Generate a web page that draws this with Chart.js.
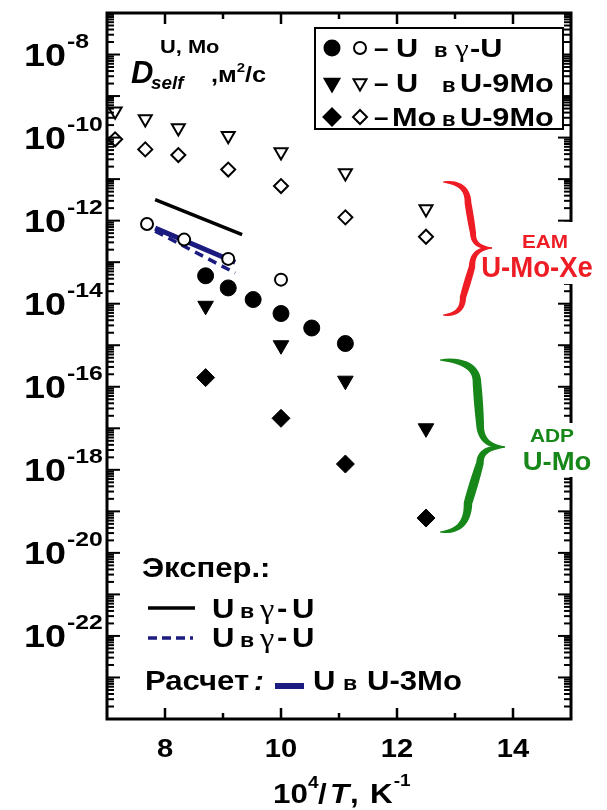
<!DOCTYPE html>
<html>
<head>
<meta charset="utf-8">
<script src="https://cdn.jsdelivr.net/npm/chart.js@4.4.1/dist/chart.umd.min.js"></script>
<style>
  html, body { margin: 0; background: #fff; }
  #wrap { width: 607px; height: 810px; }
</style>
</head>
<body>
<div id="wrap"><canvas id="chart"></canvas></div>
<script>
// x = 10^4/T (K^-1), y = D_self (m^2/s)
var xGammaEAM = [7.69, 8.33, 9.09, 10.0];
var dGammaEAM = [8.3e-13, 3.5e-13, 1.2e-13, 3.8e-14];
var xGammaADP = [8.70, 9.09, 9.52, 10.0, 10.53, 11.11];
var dGammaADP = [4.7e-14, 2.4e-14, 1.26e-14, 5.8e-15, 2.6e-15, 1.1e-15];

var x9MoEAM = [7.14, 7.66, 8.23, 9.09, 10.0, 11.11, 12.5];
var dU9MoEAM = [4.3e-10, 2.8e-10, 1.7e-10, 1.1e-10, 4.5e-11, 1.4e-11, 1.9e-12];
var dMo9MoEAM = [9.1e-11, 5.2e-11, 3.8e-11, 1.7e-11, 6.8e-12, 1.2e-12, 4.1e-13];

var x9MoADP = [8.70, 10.0, 11.11, 12.5];
var dU9MoADP = [8.9e-15, 1.0e-15, 1.4e-16, 1.0e-17];
var dMo9MoADP = [1.66e-16, 1.74e-17, 1.38e-18, 6.9e-20];

// experimental lines and the U-3Mo calculation (end points)
var xExpSolid = [7.83, 9.33];
var dExpSolid = [3.2e-12, 4.6e-13];
var xExpDash = [7.83, 9.21];
var dExpDash = [5.6e-13, 5.5e-14];
var xCalc3Mo = [7.83, 9.21];
var dCalc3Mo = [6.6e-13, 1.0e-13];

var xTickLabels = [8, 10, 12, 14];
var xMinorTicks = [9, 11, 13];
var yLabelExps = [-22, -20, -18, -16, -14, -12, -10, -8];
var yDecadeExps = [-24, -23, -22, -21, -20, -19, -18, -17, -16, -15, -14, -13, -12, -11, -10, -9, -8];

var SANS = '"Liberation Sans", Arial, sans-serif';
var SERIF = '"Liberation Serif", "Times New Roman", serif';
var NAVY = '#1b1b80';
var RED = '#ee1c24';
var GREEN = '#17871a';

function pts(xs, ys) {
  return xs.map(function (x, i) { return { x: x, y: ys[i] }; });
}

function txt(ctx, s, x, y, size, opt) {
  opt = opt || {};
  ctx.save();
  ctx.font = (opt.style || 'bold') + ' ' + size + 'px ' + (opt.family || SANS);
  ctx.fillStyle = opt.color || '#000';
  ctx.textBaseline = 'alphabetic';
  ctx.textAlign = 'left';
  var sx = opt.sx || 1.15;
  var w = ctx.measureText(s).width * sx;
  var x0 = opt.align === 'right' ? x - w : (opt.align === 'center' ? x - w / 2 : x);
  ctx.translate(x0, y);
  ctx.scale(sx, 1);
  ctx.fillText(s, 0, 0);
  ctx.restore();
  return x0 + w;
}

function seg(ctx, x1, y1, x2, y2) {
  ctx.beginPath();
  ctx.moveTo(x1, y1);
  ctx.lineTo(x2, y2);
  ctx.stroke();
}

function marker(ctx, kind, x, y, filled) {
  ctx.save();
  ctx.beginPath();
  var r;
  if (kind === 'circle') {
    r = filled ? 7.5 : 6;
    ctx.arc(x, y, r, 0, Math.PI * 2);
  } else if (kind === 'tri') {
    r = filled ? 8.5 : 7.5;
    ctx.moveTo(x - r * 0.866, y - r / 2);
    ctx.lineTo(x + r * 0.866, y - r / 2);
    ctx.lineTo(x, y + r);
    ctx.closePath();
  } else {
    r = filled ? 8.5 : 7;
    ctx.moveTo(x, y - r);
    ctx.lineTo(x + r, y);
    ctx.lineTo(x, y + r);
    ctx.lineTo(x - r, y);
    ctx.closePath();
  }
  ctx.fillStyle = filled ? '#000' : '#fff';
  ctx.fill();
  ctx.lineWidth = 2;
  ctx.strokeStyle = '#000';
  ctx.stroke();
  ctx.restore();
}

function quad(ax, ay, cx, cy, bx, by, t) {
  var u = 1 - t;
  return [u * u * ax + 2 * u * t * cx + t * t * bx, u * u * ay + 2 * u * t * cy + t * t * by];
}

// one half of a curly brace: end curl -> spine -> tip, filled with tapering width
function braceHalf(ctx, x0, y0, xa, xb, ym, xt, r1, r2, wMax) {
  var s = ym > y0 ? 1 : -1;
  var p = [], i, n = 14;
  for (i = 0; i <= n; i++) p.push(quad(x0, y0, xa, y0, xa, y0 + s * r1, i / n));
  for (i = 1; i <= n; i++) {
    var t = i / n;
    p.push([xa + (xb - xa) * t, y0 + s * r1 + (ym - s * r2 - y0 - s * r1) * t]);
  }
  for (i = 1; i <= n; i++) p.push(quad(xb, ym - s * r2, xb, ym, xt, ym, i / n));
  var len = [0];
  for (i = 1; i < p.length; i++) {
    len.push(len[i - 1] + Math.hypot(p[i][0] - p[i - 1][0], p[i][1] - p[i - 1][1]));
  }
  var total = len[len.length - 1], left = [], right = [];
  for (i = 0; i < p.length; i++) {
    var a = p[Math.max(0, i - 1)], b = p[Math.min(p.length - 1, i + 1)];
    var dx = b[0] - a[0], dy = b[1] - a[1], d = Math.hypot(dx, dy) || 1;
    var nx = -dy / d, ny = dx / d;
    var w = (0.8 + (wMax - 0.8) * Math.pow(Math.sin(Math.PI * len[i] / total), 0.7)) / 2;
    left.push([p[i][0] + nx * w, p[i][1] + ny * w]);
    right.push([p[i][0] - nx * w, p[i][1] - ny * w]);
  }
  ctx.beginPath();
  ctx.moveTo(left[0][0], left[0][1]);
  for (i = 1; i < left.length; i++) ctx.lineTo(left[i][0], left[i][1]);
  for (i = right.length - 1; i >= 0; i--) ctx.lineTo(right[i][0], right[i][1]);
  ctx.closePath();
  ctx.fill();
}

var decor = {
  id: 'decor',
  afterDraw: function (chart) {
    var ctx = chart.ctx, a = chart.chartArea;
    var xs = chart.scales.x, ys = chart.scales.y;
    ctx.save();
    ctx.strokeStyle = '#000';
    ctx.lineCap = 'butt';

    // inward ticks on all four sides
    ctx.lineWidth = 2;
    yDecadeExps.forEach(function (e) {
      for (var m = 1; m < 10; m++) {
        var v = m * Math.pow(10, e);
        if (v > ys.max) break;
        var py = ys.getPixelForValue(v);
        var L = m === 1 ? 13 : 7;
        seg(ctx, a.left, py, a.left + L, py);
        seg(ctx, a.right, py, a.right - L, py);
      }
    });
    ctx.lineWidth = 2.5;
    xTickLabels.forEach(function (v) {
      var px = xs.getPixelForValue(v);
      seg(ctx, px, a.bottom, px, a.bottom - 11);
      seg(ctx, px, a.top, px, a.top + 11);
    });
    xMinorTicks.forEach(function (v) {
      var px = xs.getPixelForValue(v);
      seg(ctx, px, a.bottom, px, a.bottom - 6);
      seg(ctx, px, a.top, px, a.top + 6);
    });
    ctx.lineWidth = 3;
    ctx.strokeRect(a.left, a.top, a.right - a.left, a.bottom - a.top);

    // y tick labels 10^n
    yLabelExps.forEach(function (e) {
      var py = ys.getPixelForValue(Math.pow(10, e));
      txt(ctx, '10', 66, py + 11, 32, { align: 'right', sx: 1.18 });
      txt(ctx, String(e), 67, py - 7, 21, { sx: 1.18 });
    });

    // x tick labels
    xTickLabels.forEach(function (v) {
      txt(ctx, String(v), xs.getPixelForValue(v), 757, 26, { align: 'center', sx: 1.12 });
    });

    // x axis title: 10^4/T, K^-1
    txt(ctx, '10', 273, 803, 28, { sx: 1.12 });
    txt(ctx, '4', 308, 788, 17, { sx: 1.12 });
    txt(ctx, '/', 318, 803, 28, { sx: 1.12 });
    txt(ctx, 'T', 330, 803, 28, { style: 'italic bold', sx: 1.12 });
    txt(ctx, ',', 350, 803, 28, { sx: 1.12 });
    var kEnd = txt(ctx, 'K', 370, 803, 28, { sx: 1.12 });
    txt(ctx, '-1', kEnd + 1, 786, 17, { sx: 1.12 });

    // quantity label D_self^{U, Mo}, м²/с
    txt(ctx, 'D', 131, 83, 31, { style: 'italic bold', sx: 1.0 });
    txt(ctx, 'self', 151, 89, 18, { style: 'italic bold', sx: 1.05 });
    txt(ctx, 'U, Mo', 160, 53, 19, { sx: 1.15 });
    var mEnd = txt(ctx, ',м', 211, 82, 22, { sx: 1.15 });
    var sqEnd = txt(ctx, '2', mEnd, 72, 13, { sx: 1.15 });
    txt(ctx, '/с', sqEnd, 82, 22, { sx: 1.15 });

    // marker legend box
    ctx.lineWidth = 2;
    ctx.fillStyle = '#fff';
    ctx.fillRect(315, 28, 248, 101);
    ctx.strokeRect(315, 28, 248, 101);
    marker(ctx, 'circle', 332, 48, true);
    marker(ctx, 'circle', 360, 48, false);
    txt(ctx, '–', 374, 57, 26, { sx: 1.0 });
    txt(ctx, 'U', 396, 57, 26, { sx: 1.18 });
    txt(ctx, 'в', 434, 57, 20, { sx: 1.1 });
    txt(ctx, 'γ', 455, 57, 26, { style: 'normal', family: SERIF, sx: 1.2 });
    txt(ctx, '-U', 470, 57, 26, { sx: 1.18 });

    marker(ctx, 'tri', 332, 83, true);
    marker(ctx, 'tri', 360, 83, false);
    txt(ctx, '–', 374, 92, 26, { sx: 1.0 });
    txt(ctx, 'U', 396, 92, 26, { sx: 1.18 });
    txt(ctx, 'в', 442, 92, 20, { sx: 1.1 });
    txt(ctx, 'U-9Mo', 460, 92, 26, { sx: 1.18 });

    marker(ctx, 'diamond', 332, 117, true);
    marker(ctx, 'diamond', 360, 117, false);
    txt(ctx, '–', 374, 126, 26, { sx: 1.0 });
    txt(ctx, 'Mo', 392, 126, 26, { sx: 1.18 });
    txt(ctx, 'в', 442, 126, 20, { sx: 1.1 });
    txt(ctx, 'U-9Mo', 460, 126, 26, { sx: 1.18 });

    // line legend, lower left
    txt(ctx, 'Экспер.:', 142, 577, 27, { sx: 1.15 });
    ctx.strokeStyle = '#000';
    ctx.lineWidth = 3.5;
    seg(ctx, 148, 608, 195, 608);
    txt(ctx, 'U', 212, 618, 27, { sx: 1.15 });
    txt(ctx, 'в', 240, 618, 21, { sx: 1.1 });
    txt(ctx, 'γ', 260, 618, 27, { style: 'normal', family: SERIF, sx: 1.2 });
    txt(ctx, '-', 277, 618, 27, { sx: 1.15 });
    txt(ctx, 'U', 292, 618, 27, { sx: 1.15 });

    ctx.strokeStyle = NAVY;
    ctx.setLineDash([9, 5]);
    seg(ctx, 148, 638, 193, 638);
    ctx.setLineDash([]);
    txt(ctx, 'U', 212, 647, 27, { sx: 1.15 });
    txt(ctx, 'в', 240, 647, 21, { sx: 1.1 });
    txt(ctx, 'γ', 260, 647, 27, { style: 'normal', family: SERIF, sx: 1.2 });
    txt(ctx, '-', 277, 647, 27, { sx: 1.15 });
    txt(ctx, 'U', 292, 647, 27, { sx: 1.15 });

    txt(ctx, 'Расчет', 145, 690, 27, { sx: 1.15 });
    txt(ctx, ':', 254, 690, 27, { style: 'italic bold', sx: 1.1 });
    ctx.lineWidth = 6;
    seg(ctx, 275, 686, 304, 686);
    txt(ctx, 'U', 313, 690, 27, { sx: 1.15 });
    txt(ctx, 'в', 343, 690, 21, { sx: 1.1 });
    txt(ctx, 'U-3Mo', 367, 690, 27, { sx: 1.15 });

    // braces marking the two potentials
    ctx.fillStyle = '#fff';
    ctx.fillRect(478, 222, 125, 62);
    ctx.fillRect(520, 423, 83, 54);
    ctx.fillStyle = RED;
    braceHalf(ctx, 443, 182, 468, 473, 248, 492, 21, 15, 7);
    braceHalf(ctx, 443, 315, 463, 472, 248, 492, 18, 19, 7);
    txt(ctx, 'EAM', 545, 248, 18, { color: RED, align: 'center', sx: 1.15 });
    txt(ctx, 'U-Mo-Xe', 537, 277, 29, { color: RED, align: 'center', sx: 0.95 });

    ctx.fillStyle = GREEN;
    braceHalf(ctx, 440, 360, 477, 480, 447, 505, 23, 24, 9);
    braceHalf(ctx, 440, 532, 468, 480, 447, 505, 29, 16, 9);
    txt(ctx, 'ADP', 552, 442, 19, { color: GREEN, align: 'center', sx: 1.1 });
    txt(ctx, 'U-Mo', 557, 470, 25, { color: GREEN, align: 'center', sx: 1.1 });

    ctx.restore();
  }
};

var ctx = document.getElementById('chart').getContext('2d');
var chart = new Chart(ctx, {
  type: 'scatter',
  data: {
    datasets: [{
      label: 'U в γ-U, эксп.',
      data: pts(xExpSolid, dExpSolid),
      showLine: true,
      borderColor: '#000',
      borderWidth: 3.5,
      pointRadius: 0,
      order: 2
    }, {
      label: 'U в γ-U, эксп. (2)',
      data: pts(xExpDash, dExpDash),
      showLine: true,
      borderColor: NAVY,
      borderWidth: 3.5,
      borderDash: [9, 6],
      pointRadius: 0,
      order: 2
    }, {
      label: 'U в U-3Mo, расчет',
      data: pts(xCalc3Mo, dCalc3Mo),
      showLine: true,
      borderColor: NAVY,
      borderWidth: 5,
      pointRadius: 0,
      order: 2
    }, {
      label: 'U в γ-U (EAM)',
      data: pts(xGammaEAM, dGammaEAM),
      pointStyle: 'circle',
      pointRadius: 6,
      pointBackgroundColor: '#fff',
      pointBorderColor: '#000',
      pointBorderWidth: 2,
      order: 1
    }, {
      label: 'U в γ-U (ADP)',
      data: pts(xGammaADP, dGammaADP),
      pointStyle: 'circle',
      pointRadius: 8,
      pointBackgroundColor: '#000',
      pointBorderColor: '#000',
      pointBorderWidth: 1,
      order: 1
    }, {
      label: 'U в U-9Mo (EAM)',
      data: pts(x9MoEAM, dU9MoEAM),
      pointStyle: 'triangle',
      rotation: 180,
      pointRadius: 7.5,
      pointBackgroundColor: '#fff',
      pointBorderColor: '#000',
      pointBorderWidth: 2,
      order: 1
    }, {
      label: 'Mo в U-9Mo (EAM)',
      data: pts(x9MoEAM, dMo9MoEAM),
      pointStyle: 'rectRot',
      pointRadius: 7,
      pointBackgroundColor: '#fff',
      pointBorderColor: '#000',
      pointBorderWidth: 2,
      order: 1
    }, {
      label: 'U в U-9Mo (ADP)',
      data: pts(x9MoADP, dU9MoADP),
      pointStyle: 'triangle',
      rotation: 180,
      pointRadius: 9,
      pointBackgroundColor: '#000',
      pointBorderColor: '#000',
      pointBorderWidth: 1,
      order: 1
    }, {
      label: 'Mo в U-9Mo (ADP)',
      data: pts(x9MoADP, dMo9MoADP),
      pointStyle: 'rectRot',
      pointRadius: 9,
      pointBackgroundColor: '#000',
      pointBorderColor: '#000',
      pointBorderWidth: 1,
      order: 1
    }]
  },
  options: {
    responsive: true,
    maintainAspectRatio: false,
    animation: false,
    layout: { padding: { left: 107, right: 36, top: 13, bottom: 91 } },
    plugins: {
      legend: { display: false },
      tooltip: { enabled: false }
    },
    scales: {
      x: {
        type: 'linear',
        min: 7,
        max: 15,
        grid: { display: false, drawTicks: false },
        border: { display: false },
        ticks: { display: false }
      },
      y: {
        type: 'logarithmic',
        min: 1e-24,
        max: 1e-7,
        grid: { display: false, drawTicks: false },
        border: { display: false },
        ticks: { display: false },
        afterBuildTicks: function (scale) {
          scale.ticks = yDecadeExps.map(function (e) { return { value: Math.pow(10, e) }; });
        }
      }
    }
  },
  plugins: [decor]
});
</script>
</body>
</html>
